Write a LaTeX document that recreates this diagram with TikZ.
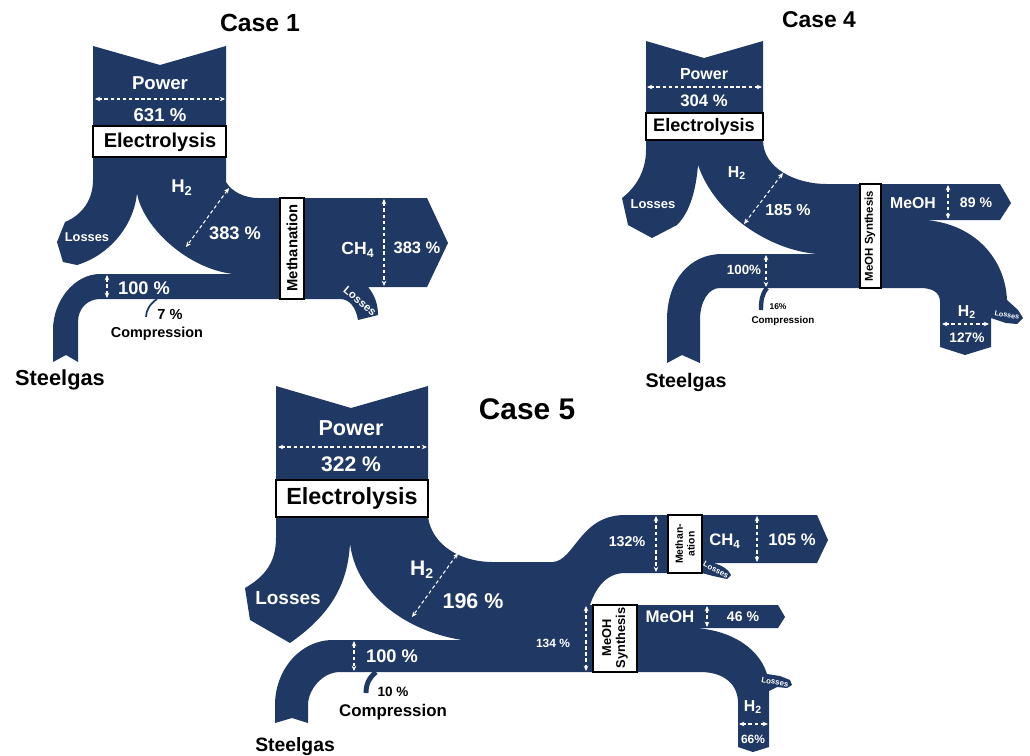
\documentclass[tikz,border=0pt]{standalone}
\usepackage{fontspec}
\setmainfont{Liberation Sans}
\usetikzlibrary{arrows.meta}
\definecolor{navy}{RGB}{31,56,100}
\newcommand{\fsz}[1]{\fontsize{#1}{#1}\selectfont\bfseries}

\begin{document}
\begin{tikzpicture}[x=0.02cm, y=-0.02cm,
    flow/.style={fill=navy},
    lbl/.style={text=white, inner sep=0},
    unit/.style={draw=black, fill=white, line width=0.7pt},
    dim/.style={white, line width=0.6pt, dash pattern=on 2pt off 1.5pt,
      {Stealth[length=3pt,width=2.6pt]}-{Stealth[length=3pt,width=2.6pt]}},
    comp/.style={navy}]
  \useasboundingbox (0,0) rectangle (1030,755);

  % Case 1
  \fill[flow] (93,46) -- (160,65) -- (226,46) -- (226,182)
    .. controls (232,192) and (245,198) .. (258,198)
    -- (427,198) -- (448,243) -- (427,287) -- (368,287)
    .. controls (375,295) and (378,305) .. (378,315)
    -- (358,320)
    .. controls (356,308) and (350,299) .. (340,299)
    -- (100,299)
    .. controls (88,299) and (78,308) .. (78,322)
    -- (78,362) -- (66,355) -- (53,362) -- (53,330)
    .. controls (53,300) and (75,274) .. (100,274)
    -- (233,274)
    .. controls (185,268) and (142,225) .. (137,193)
    .. controls (134,225) and (110,255) .. (77,265)
    -- (63,262) -- (57,242) -- (65,222)
    .. controls (82,215) and (93,200) .. (93,180)
    -- cycle;
  \draw[comp, line width=1pt] (157,299) .. controls (150,304) and (146,310) .. (146,317);
  \draw[unit] (93,126) rectangle (226,157);
  \draw[unit] (280,198) rectangle (304,299);
  \draw[dim] (95,99) -- (225,99);
  \draw[dim] (229,188) -- (186,247);
  \draw[dim] (384,199) -- (384,286);
  \draw[dim] (107,275) -- (107,298);
  \node[font=\fsz{14.1}] (t1) at (260,23) {Case 1};
  \node[lbl, font=\fsz{10.6}] (pw1) at (160,83) {Power};
  \node[lbl, font=\fsz{10.6}] (pp1) at (160,115) {631 \%};
  \node[font=\fsz{11.4}] (el1) at (160,142) {Electrolysis};
  \node[lbl, font=\fsz{10.5}] (h1) at (182,188) {H\textsubscript{2}};
  \node[lbl, font=\fsz{10.4}] (hp1) at (235,233) {383 \%};
  \node[lbl, font=\fsz{7.3}] (ls1) at (87,237) {Losses};
  \node[rotate=90, font=\fsz{8.4}] (me1) at (292,248) {Methanation};
  \node[lbl, font=\fsz{10}] (ch1) at (358,250) {CH\textsubscript{4}};
  \node[lbl, font=\fsz{9.4}] (cp1) at (417,248) {383 \%};
  \node[lbl, rotate=-40, font=\fsz{6.4}] (lm1) at (360,301) {Losses};
  \node[lbl, font=\fsz{10.4}] (sp1) at (144,288) {100 \%};
  \node[font=\fsz{8.3}] (cm1) at (170,314) {7 \%};
  \node[font=\fsz{8.2}] (cn1) at (157,334) {Compression};
  \node[font=\fsz{12.4}] (sg1) at (60,380) {Steelgas};

  % Case 4
  \fill[flow] (646,41) -- (704,58) -- (763,41) -- (763,140)
    .. controls (763,168) and (795,184) .. (827,184)
    -- (1000,184) -- (1011,203) -- (1000,220) -- (923,220)
    .. controls (970,222) and (1005,255) .. (1007,300)
    -- (1018,310) -- (1023,318) -- (1017,324) -- (1006,323)
    .. controls (998,320) .. (991,318)
    -- (991,347) -- (965,355) -- (940,347) -- (940,302)
    .. controls (940,292) and (932,288) .. (920,288)
    -- (720,288)
    .. controls (708,288) and (700,302) .. (700,320)
    -- (700,363) -- (682,355) -- (667,363) -- (667,320)
    .. controls (667,280) and (690,254) .. (722,254)
    -- (817,254)
    .. controls (770,250) and (715,215) .. (698,165)
    .. controls (696,190) and (690,212) .. (677,225)
    -- (652,238) -- (628,225) -- (622,198)
    .. controls (635,188) and (646,172) .. (646,150)
    -- cycle;
  \draw[comp, line width=2.5pt] (767,288) .. controls (762,294) and (761,300) .. (761,310);
  \draw[unit] (646,113) rectangle (763,140);
  \draw[unit] (860,184) rectangle (881,288);
  \draw[dim] (647,87) -- (762,87);
  \draw[dim] (783,173) -- (744,224);
  \draw[dim] (948,185) -- (948,219);
  \draw[dim] (766,255) -- (766,287);
  \draw[dim] (942,324) -- (989,324);
  \node[font=\fsz{13}] (t4) at (819,20) {Case 4};
  \node[lbl, font=\fsz{9.1}] (pw4) at (704,74) {Power};
  \node[lbl, font=\fsz{9.5}] (pp4) at (704,101) {304 \%};
  \node[font=\fsz{10.3}] (el4) at (704,127) {Electrolysis};
  \node[lbl, font=\fsz{9}] (h4) at (737,173) {H\textsubscript{2}};
  \node[lbl, font=\fsz{9.1}] (hp4) at (788,210) {185 \%};
  \node[lbl, font=\fsz{7.4}] (ls4) at (653,204) {Losses};
  \node[rotate=90, font=\fsz{6.5}] (ms4) at (870,236) {MeOH Synthesis};
  \node[lbl, font=\fsz{9}] (mo4) at (913,203) {MeOH};
  \node[lbl, font=\fsz{8}] (mp4) at (976,203) {89 \%};
  \node[lbl, font=\fsz{7.6}] (sp4) at (744,270) {100\%};
  \node[font=\fsz{4.8}] (cm4) at (778,307) {16\%};
  \node[font=\fsz{5.6}] (cn4) at (783,321) {Compression};
  \node[lbl, font=\fsz{9}] (h4b) at (967,312) {H\textsubscript{2}};
  \node[lbl, font=\fsz{7.8}] (hp4b) at (967,338) {127\%};
  \node[lbl, rotate=-10, font=\fsz{4.1}] (lh4) at (1007,315) {Losses};
  \node[font=\fsz{11.2}] (sg4) at (686,382) {Steelgas};

  % Case 5
  \fill[flow] (276,386) -- (351,408) -- (428,386) -- (428,517)
    .. controls (432,545) and (460,562) .. (493,562)
    -- (553,562)
    .. controls (575,560) and (580,515) .. (625,515)
    -- (817,515) -- (828,540) -- (817,563) -- (713,563)
    .. controls (722,565) and (729,570) .. (731,575)
    -- (727,579) -- (713,576) -- (702,573)
    -- (625,573)
    .. controls (605,573) and (595,590) .. (590,605)
    -- (778,605) -- (785,617) -- (778,628) -- (690,628)
    .. controls (725,628) and (758,645) .. (767,674)
    -- (780,676) -- (790,680) -- (792,685) -- (787,688) -- (777,687) -- (769,691)
    -- (769,747) -- (753,752) -- (738,747) -- (738,703)
    .. controls (738,685) and (725,672) .. (700,672)
    -- (340,672)
    .. controls (322,672) and (308,690) .. (308,705)
    -- (308,723) -- (292,718) -- (275,723) -- (275,705)
    .. controls (275,670) and (300,640) .. (333,640)
    -- (462,640)
    .. controls (400,630) and (355,590) .. (350,543)
    .. controls (348,585) and (330,615) .. (290,643)
    -- (250,620) -- (245,588)
    .. controls (262,578) and (276,565) .. (276,538)
    -- cycle;
  \draw[comp, line width=2.8pt] (376,672) .. controls (369,678) and (366,684) .. (366,693);
  \draw[unit] (276,480) rectangle (428,517);
  \draw[unit] (668,515) rectangle (702,573);
  \draw[unit] (593,605) rectangle (637,672);
  \draw[dim] (278,447) -- (427,447);
  \draw[dim] (458,553) -- (412,617);
  \draw[dim] (354,641) -- (354,671);
  \draw[dim] (586,606) -- (586,671);
  \draw[dim] (656,516) -- (656,572);
  \draw[dim] (757,516) -- (757,562);
  \draw[dim] (707,606) -- (707,627);
  \draw[dim] (739,724) -- (768,724);
  \node[font=\fsz{17}] (t5) at (527,409) {Case 5};
  \node[lbl, font=\fsz{12.3}] (pw5) at (351,428) {Power};
  \node[lbl, font=\fsz{12}] (pp5) at (351,464) {322 \%};
  \node[font=\fsz{13.3}] (el5) at (352,498) {Electrolysis};
  \node[lbl, font=\fsz{10.8}] (ls5) at (288,598) {Losses};
  \node[lbl, font=\fsz{12}] (h5) at (422,570) {H\textsubscript{2}};
  \node[lbl, font=\fsz{12.2}] (hp5) at (473,601) {196 \%};
  \node[lbl, font=\fsz{10.4}] (sp5) at (392,656) {100 \%};
  \node[font=\fsz{7.7}] (cm5) at (393,692) {10 \%};
  \node[font=\fsz{9.6}] (cn5) at (393,712) {Compression};
  \node[font=\fsz{11}] (sg5) at (295,747) {Steelgas};
  \node[lbl, font=\fsz{6.8}] (ip5) at (553,643) {134 \%};
  \node[lbl, font=\fsz{8.1}] (mp5) at (627,542) {132\%};
  \node[rotate=90, align=center, font=\fontsize{5.9}{6.6}\selectfont\bfseries] (me5) at (685,544) {Methan-\\ation};
  \node[lbl, font=\fsz{9.5}] (ch5) at (725,541) {CH\textsubscript{4}};
  \node[lbl, font=\fsz{9.5}] (cp5) at (792,540) {105 \%};
  \node[lbl, rotate=-28, font=\fsz{4.5}] (lm5) at (716,570) {Losses};
  \node[rotate=90, align=center, font=\fontsize{7.3}{8}\selectfont\bfseries] (ms5) at (615,638) {MeOH\\Synthesis};
  \node[lbl, font=\fsz{9.6}] (mo5) at (670,617) {MeOH};
  \node[lbl, font=\fsz{8}] (mq5) at (743,617) {46 \%};
  \node[lbl, rotate=-10, font=\fsz{4.5}] (lh5) at (775,682) {Losses};
  \node[lbl, font=\fsz{9}] (h5b) at (753,707) {H\textsubscript{2}};
  \node[lbl, font=\fsz{6.8}] (hp5b) at (753,739) {66\%};
\end{tikzpicture}
\end{document}
